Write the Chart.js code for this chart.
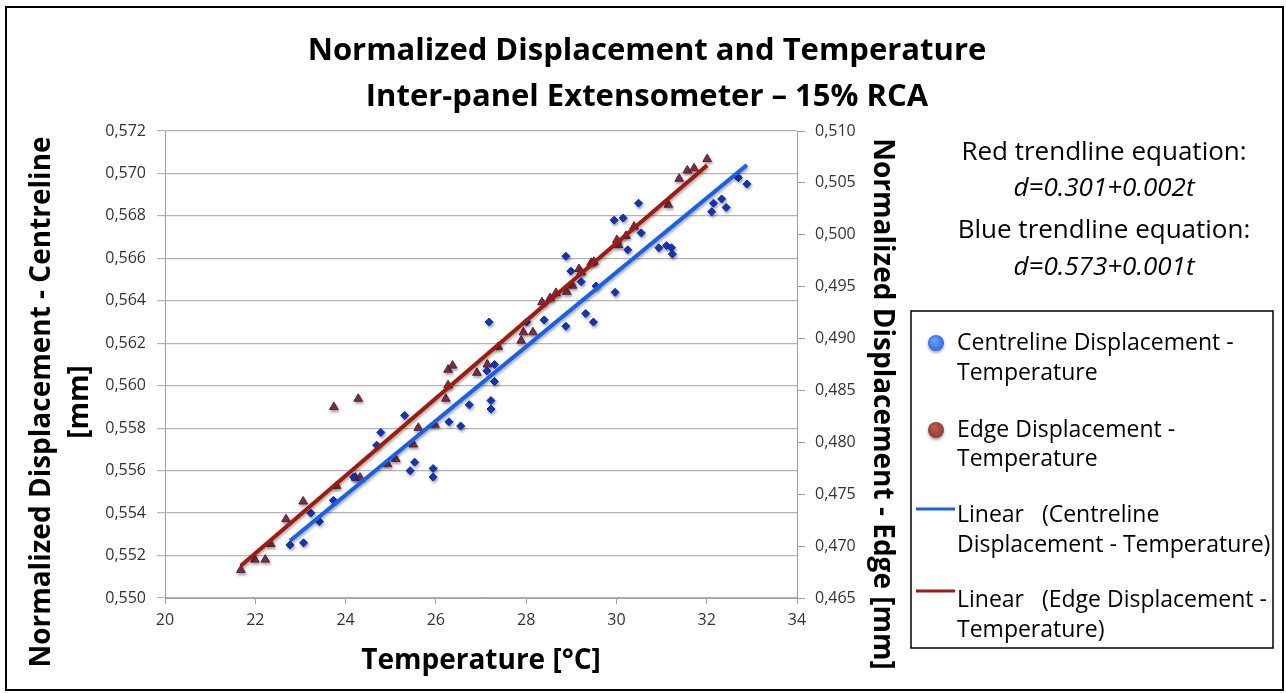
<!DOCTYPE html>
<html>
<head>
<meta charset="utf-8">
<script src="https://cdn.jsdelivr.net/npm/chart.js@4.4.0/dist/chart.umd.min.js"></script>
<style>
  html, body { margin: 0; padding: 0; background: #fff; }
  #wrap { width: 1286px; height: 693px; position: relative; }
</style>
</head>
<body>
<div id="wrap"><canvas id="chart" width="1286" height="693"></canvas></div>
<script>
// --- Data ---
const tempCentre = [22.77, 23.07, 23.23, 23.42, 23.73, 24.18, 24.69, 24.78, 25.31, 25.43, 25.53, 25.94, 25.94, 26.29, 26.55, 26.74,
    27.22, 27.22, 27.30, 27.30, 27.13, 27.18, 28.01, 28.40, 28.88, 29.32, 29.49, 28.88, 28.99, 29.22, 29.55, 29.97,
    29.95, 30.15, 30.49, 30.55, 30.25, 30.94, 31.11, 31.22, 31.24, 32.11, 32.15, 32.33, 32.43, 32.70, 32.89];
const dispCentre = [0.5525, 0.5526, 0.5540, 0.5536, 0.5546, 0.5557, 0.5572, 0.5578, 0.5586, 0.5560, 0.5564, 0.5561, 0.5557, 0.5583, 0.5581, 0.5591,
    0.5593, 0.5589, 0.5602, 0.5610, 0.5607, 0.5630, 0.5630, 0.5631, 0.5628, 0.5634, 0.5630, 0.5661, 0.5654, 0.5649, 0.5647, 0.5644,
    0.5678, 0.5679, 0.5686, 0.5672, 0.5664, 0.5665, 0.5666, 0.5665, 0.5662, 0.5682, 0.5686, 0.5688, 0.5684, 0.5698, 0.5695];

const tempEdge = [21.68, 21.99, 22.22, 22.34, 22.68, 23.06, 23.74, 23.80, 24.28, 24.22, 24.32, 24.93, 25.11, 25.50, 25.61, 25.98,
    26.22, 26.27, 26.27, 26.37, 26.91, 27.14, 27.38, 27.89, 27.94, 28.15, 28.35, 28.53, 28.66, 28.90, 29.03, 29.17,
    29.22, 29.44, 29.50, 30.01, 30.05, 30.21, 30.39, 31.15, 31.39, 31.57, 31.72, 32.01];
const dispEdge = [0.4677, 0.4687, 0.4687, 0.4702, 0.4726, 0.4743, 0.4834, 0.4758, 0.4842, 0.4766, 0.4766, 0.4779, 0.4784, 0.4798, 0.4814, 0.4817,
    0.4842, 0.4855, 0.4870, 0.4874, 0.4867, 0.4875, 0.4892, 0.4898, 0.4906, 0.4906, 0.4935, 0.4939, 0.4944, 0.4945, 0.4951, 0.4967,
    0.4964, 0.4973, 0.4974, 0.4995, 0.4990, 0.4999, 0.5008, 0.5029, 0.5054, 0.5062, 0.5064, 0.5073];

// trendline end points (as drawn in the reference)
const trendCentreT = [22.77, 32.89];
const trendCentreD = [0.5527, 0.5704];
const trendEdgeT = [21.68, 32.01];
const trendEdgeD = [0.4681, 0.5067];

// axis ranges / ticks
const xTicks = [20, 34, 2];
const leftTicks = [0.550, 0.572, 0.002];
const rightTicks = [0.465, 0.510, 0.005];

const titleLines = ['Normalized Displacement and Temperature', 'Inter-panel Extensometer \u2013 15% RCA'];
const leftTitle = ['Normalized Displacement - Centreline', '[mm]'];
const rightTitle = 'Normalized Displacement - Edge [mm]';
const bottomTitle = 'Temperature [\u00B0C]';
const eqText = ['Red trendline equation:', 'd=0.301+0.002t', 'Blue trendline equation:', 'd=0.573+0.001t'];
const legendItems = [
    ['Centreline Displacement -', 'Temperature'],
    ['Edge Displacement -', 'Temperature'],
    ['Linear   (Centreline', 'Displacement - Temperature)'],
    ['Linear   (Edge Displacement -', 'Temperature)']
];

const FONT = '"Open Sans", "Liberation Sans", sans-serif';
const zip = (a, b) => a.map((v, i) => ({ x: v, y: b[i] }));
const comma = (v, d) => Number(v).toFixed(d).replace('.', ',');

// --- custom text, frame and legend ---
const decor = {
    id: 'decor',
    beforeDatasetDraw(chart, args) {
        const ctx = chart.ctx;
        ctx.save();
        ctx.shadowColor = 'rgba(0,0,0,0.35)';
        ctx.shadowBlur = 3;
        ctx.shadowOffsetX = 1;
        ctx.shadowOffsetY = 2;
    },
    afterDatasetDraw(chart) {
        chart.ctx.restore();
    },
    afterDraw(chart) {
        const ctx = chart.ctx;
        ctx.save();
        // frame
        ctx.strokeStyle = '#000';
        ctx.lineWidth = 2;
        ctx.strokeRect(6, 7, 1277, 683);

        ctx.fillStyle = '#000';
        ctx.textAlign = 'center';
        ctx.textBaseline = 'middle';

        // title
        ctx.font = 'bold 31px ' + FONT;
        ctx.fillText(titleLines[0], 647, 51);
        ctx.fillText(titleLines[1], 647, 97);

        // x title
        ctx.font = 'bold 28px ' + FONT;
        ctx.fillText(bottomTitle, 481, 661);

        // left title
        ctx.save();
        ctx.translate(42, 402);
        ctx.rotate(-Math.PI / 2);
        ctx.fillText(leftTitle[0], 0, 0);
        ctx.fillText(leftTitle[1], 0, 38);
        ctx.restore();

        // right title
        ctx.save();
        ctx.translate(882, 404);
        ctx.rotate(Math.PI / 2);
        ctx.fillText(rightTitle, 0, 0);
        ctx.restore();

        // trendline equations
        ctx.font = '26px ' + FONT;
        ctx.fillText(eqText[0], 1104, 153);
        ctx.fillText(eqText[2], 1104, 231);
        ctx.font = 'italic 26px ' + FONT;
        ctx.fillText(eqText[1], 1104, 189);
        ctx.fillText(eqText[3], 1104, 268);

        // legend box
        ctx.lineWidth = 1.5;
        ctx.strokeRect(911, 311, 362, 337);

        // markers
        const circ = (cx, cy, c1, c2) => {
            ctx.save();
            ctx.shadowColor = 'rgba(0,0,0,0.35)';
            ctx.shadowBlur = 3;
            ctx.shadowOffsetY = 2;
            const g = ctx.createRadialGradient(cx - 2, cy - 3, 1, cx, cy, 9);
            g.addColorStop(0, c1);
            g.addColorStop(1, c2);
            ctx.fillStyle = g;
            ctx.beginPath();
            ctx.arc(cx, cy, 8, 0, Math.PI * 2);
            ctx.fill();
            ctx.restore();
        };
        circ(936, 343, '#6aa0ff', '#2a66e8');
        circ(936, 430, '#b85a52', '#953a35');

        ctx.lineWidth = 3;
        ctx.strokeStyle = '#1560f0';
        ctx.beginPath(); ctx.moveTo(916, 509); ctx.lineTo(955, 509); ctx.stroke();
        ctx.strokeStyle = '#a31a0c';
        ctx.beginPath(); ctx.moveTo(916, 591); ctx.lineTo(955, 591); ctx.stroke();

        ctx.font = '23px ' + FONT;
        ctx.textAlign = 'left';
        ctx.fillStyle = '#000';
        const rows = [[343, 373], [430, 459], [515, 545], [600, 630]];
        legendItems.forEach((lines, i) => {
            ctx.fillText(lines[0], 957, rows[i][0]);
            ctx.fillText(lines[1], 957, rows[i][1]);
        });
        ctx.restore();
    }
};

new Chart(document.getElementById('chart'), {
    type: 'scatter',
    data: {
        datasets: [
            {
                type: 'line',
                label: 'Linear (Centreline Displacement - Temperature)',
                data: zip(trendCentreT, trendCentreD),
                yAxisID: 'y',
                borderColor: '#1560f0',
                borderWidth: 4,
                pointRadius: 0,
                fill: false,
                order: 0
            },
            {
                type: 'line',
                label: 'Linear (Edge Displacement - Temperature)',
                data: zip(trendEdgeT, trendEdgeD),
                yAxisID: 'y2',
                borderColor: '#a31a0c',
                borderWidth: 4,
                pointRadius: 0,
                fill: false,
                order: 0
            },
            {
                label: 'Centreline Displacement - Temperature',
                data: zip(tempCentre, dispCentre),
                yAxisID: 'y',
                pointStyle: 'rectRot',
                pointRadius: 4,
                backgroundColor: '#1538c8',
                borderColor: '#0c2a9c',
                borderWidth: 1,
                order: 1
            },
            {
                label: 'Edge Displacement - Temperature',
                data: zip(tempEdge, dispEdge),
                yAxisID: 'y2',
                pointStyle: 'triangle',
                pointRadius: 5,
                backgroundColor: '#843252',
                borderColor: '#5e2038',
                borderWidth: 1,
                order: 2
            }
        ]
    },
    options: {
        responsive: false,
        animation: false,
        events: [],
        layout: { padding: { left: 0, top: 131, right: 419, bottom: 60 } },
        plugins: { legend: { display: false }, tooltip: { enabled: false }, title: { display: false } },
        scales: {
            x: {
                type: 'linear',
                min: xTicks[0], max: xTicks[1],
                ticks: { stepSize: xTicks[2], color: '#333', font: { family: FONT, size: 16 }, padding: 7 },
                grid: { drawOnChartArea: false, color: '#a0a0a0', tickLength: 6 },
                border: { color: '#a0a0a0' },
                afterFit: s => { s.height = 35; }
            },
            y: {
                position: 'left',
                min: leftTicks[0], max: leftTicks[1],
                ticks: { stepSize: leftTicks[2], color: '#333', font: { family: FONT, size: 16 }, padding: 11,
                    callback: v => comma(v, 3) },
                grid: { color: '#b4b4b4', lineWidth: 1.2, tickLength: 8 },
                border: { color: '#a0a0a0' },
                afterFit: s => { s.width = 165; }
            },
            y2: {
                position: 'right',
                min: rightTicks[0], max: rightTicks[1],
                ticks: { stepSize: rightTicks[2], color: '#333', font: { family: FONT, size: 16 }, padding: 10,
                    callback: v => comma(v, 3) },
                grid: { drawOnChartArea: false, color: '#a0a0a0', tickLength: 8 },
                border: { color: '#a0a0a0' },
                afterFit: s => { s.width = 70; }
            }
        }
    },
    plugins: [decor]
});
</script>
</body>
</html>
